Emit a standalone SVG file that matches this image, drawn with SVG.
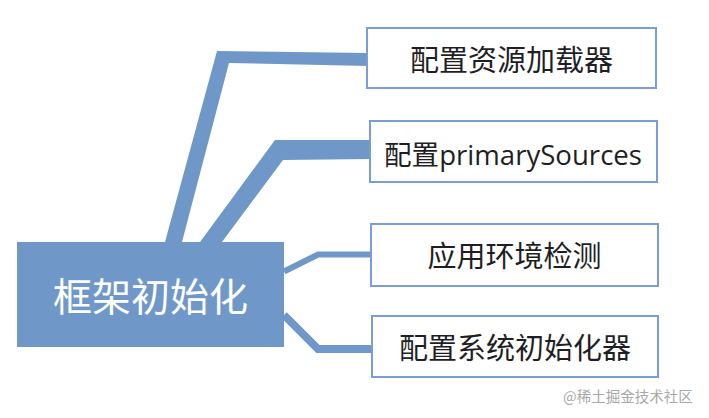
<svg xmlns="http://www.w3.org/2000/svg" width="709" height="418" viewBox="0 0 709 418">
<style>
.conn{fill:#6f98c9;stroke:none}
.line{fill:none;stroke:#6f98c9;stroke-linejoin:miter}
.box{fill:#ffffff;stroke:#7b9dd1;stroke-width:2}
.lbl{font-family:"Noto Sans CJK SC","Noto Sans",sans-serif;font-size:29px;fill:#1e1e24;text-anchor:middle}
.lbl2{font-family:"Open Sans","Noto Sans CJK SC",sans-serif;font-size:27.5px;fill:#1e1e24;text-anchor:middle}
.main{font-family:"Noto Sans CJK SC","Noto Sans",sans-serif;font-size:39px;fill:#ffffff;text-anchor:middle}
.wm{font-family:"Noto Sans CJK SC","Noto Sans",sans-serif;font-size:14.5px;fill:#a8a8a8}
</style>
<rect width="709" height="418" fill="#ffffff"/>
<g id="connectors">
<polygon class="conn" points="165,242 217,51 368,53 368,66 229,63 182,242"/>
<polygon class="conn" points="200,242 275,140 371,140 371,159 283,160 222,242"/>
<polyline class="line" stroke-width="6" points="284,271.5 318,254.5 372,254.5"/>
<polyline class="line" stroke-width="8" points="284,315 318,349 373,349"/>
</g>
<g id="main">
<rect x="17" y="242" width="267" height="105" fill="#6f98c9"/>
<text class="main" x="150.5" y="311">框架初始化</text>
</g>
<g id="n1">
<rect class="box" x="367" y="28" width="289" height="60"/>
<text class="lbl" x="511.5" y="71">配置资源加载器</text>
</g>
<g id="n2">
<rect class="box" x="370" y="121" width="287" height="61"/>
<text class="lbl2" x="513" y="165" textLength="258" lengthAdjust="spacingAndGlyphs">配置primarySources</text>
</g>
<g id="n3">
<rect class="box" x="371" y="224" width="287" height="62"/>
<text class="lbl" x="514.5" y="267">应用环境检测</text>
</g>
<g id="n4">
<rect class="box" x="372" y="316" width="286" height="61"/>
<text class="lbl" x="515" y="359">配置系统初始化器</text>
</g>
<text class="wm" x="563" y="402">@稀土掘金技术社区</text>
</svg>
